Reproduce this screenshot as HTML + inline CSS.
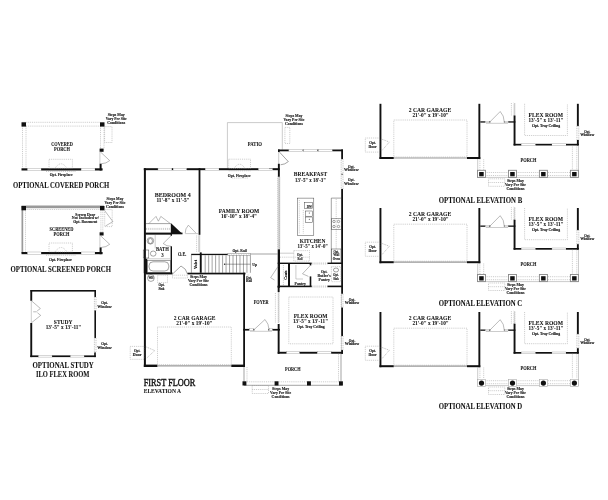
<!DOCTYPE html>
<html><head><meta charset="utf-8"><title>First Floor</title>
<style>
html,body{margin:0;padding:0;background:#fff;}
body{width:608px;height:500px;overflow:hidden;}
svg{display:block;filter:grayscale(1);}
text{font-family:"Liberation Serif",serif;fill:#111;}
.b{font-weight:bold;stroke:#111;stroke-width:0.06;}
.r{font-weight:normal;}
.ff{font-weight:normal;stroke:#111;stroke-width:0.4;}
.s{font-weight:bold;stroke:#111;stroke-width:0.12;}
.w{fill:#fff;stroke:#999;stroke-width:0.4;}
.t{stroke:#333;stroke-width:0.45;fill:none;}
.g{stroke:#999;stroke-width:0.5;fill:none;}
.g2{stroke:#777;stroke-width:0.5;fill:none;}
.d2{stroke:#777;stroke-width:0.5;stroke-dasharray:1 0.9;fill:none;}
.ow{fill:#fff;stroke:#888;stroke-width:0.5;stroke-dasharray:1 0.8;}
.d{stroke:#999;stroke-width:0.5;stroke-dasharray:1 0.9;fill:none;}
</style></head>
<body>
<svg width="608" height="500" viewBox="0 0 608 500">
<rect width="608" height="500" fill="#fff"/>
<line x1="22.5" y1="122.3" x2="100" y2="122.3" class="d"/>
<line x1="26" y1="126.1" x2="100" y2="126.1" class="d"/>
<line x1="22.5" y1="126.3" x2="22.5" y2="168.3" class="d"/>
<line x1="26" y1="126.3" x2="26" y2="168.3" class="d"/>
<line x1="100.5" y1="126.3" x2="100.5" y2="149.3" class="d"/>
<line x1="104" y1="126.3" x2="104" y2="149.3" class="d"/>
<rect x="21.5" y="122.3" width="4.5" height="4.3" fill="#111"/>
<rect x="100" y="122.3" width="4.5" height="4.3" fill="#111"/>
<rect x="99.6" y="148.6" width="4" height="3.2" fill="#111"/>
<line x1="99.9" y1="151.8" x2="99.9" y2="163.7" class="g"/>
<path d="M100.3,151.8 L109.7,160.6 A12.9,12.9 0 0 1 101.5,163.7" class="g2"/>
<rect x="99.6" y="163.7" width="2" height="6.8" fill="#111"/>
<rect x="21.5" y="168.3" width="6.1" height="2.2" fill="#111"/>
<rect x="27.6" y="168.3" width="13.6" height="2.2" class="w"/>
<rect x="41.2" y="168.3" width="40" height="2.2" fill="#111"/>
<rect x="81.2" y="168.3" width="13.8" height="2.2" class="w"/>
<rect x="95" y="168.3" width="7.6" height="2.2" fill="#111"/>
<rect x="49" y="159.3" width="23.4" height="9" class="d" fill="none"/>
<path d="M55,168.3 Q61,159.3 67,168.3" class="d"/>
<line x1="46" y1="171.5" x2="76" y2="171.5" class="d"/>
<text x="51.25" y="146.4" font-size="5.3" textLength="21.5" lengthAdjust="spacingAndGlyphs" class="b">COVERED</text>
<text x="54" y="150.8" font-size="5.3" textLength="16" lengthAdjust="spacingAndGlyphs" class="b">PORCH</text>
<rect x="104.6" y="126.6" width="7.4" height="15.9" class="d" fill="none"/>
<text x="107.7" y="115.6" font-size="4.4" textLength="17" lengthAdjust="spacingAndGlyphs" class="s">Steps May</text>
<text x="105.7" y="119.6" font-size="4.4" textLength="21" lengthAdjust="spacingAndGlyphs" class="s">Vary Per Site</text>
<text x="107.2" y="123.6" font-size="4.4" textLength="18" lengthAdjust="spacingAndGlyphs" class="s">Conditions</text>
<text x="49.7" y="176.2" font-size="4.48" textLength="23" lengthAdjust="spacingAndGlyphs" class="s">Opt. Fireplace</text>
<text x="13" y="188" font-size="8.2" textLength="96.2" lengthAdjust="spacingAndGlyphs" class="b">OPTIONAL COVERED PORCH</text>
<rect x="21.5" y="205.5" width="82.5" height="2.7" fill="#9a9a9a"/>
<rect x="21.5" y="206" width="1.7" height="47" fill="#9a9a9a"/>
<line x1="25.5" y1="209.5" x2="100" y2="209.5" class="d"/>
<line x1="25.5" y1="209.5" x2="25.5" y2="252" class="d"/>
<line x1="100.9" y1="210.3" x2="100.9" y2="232.3" class="d"/>
<line x1="102.8" y1="210.3" x2="102.8" y2="232.3" class="d"/>
<rect x="21.5" y="206" width="4.5" height="4.3" fill="#111"/>
<rect x="100" y="206" width="4.5" height="4.3" fill="#111"/>
<rect x="99.6" y="232.3" width="4" height="3.2" fill="#111"/>
<line x1="99.9" y1="235.5" x2="99.9" y2="247.4" class="g"/>
<path d="M100.3,235.5 L109.7,244.3 A12.9,12.9 0 0 1 101.5,247.4" class="g2"/>
<rect x="99.6" y="247.4" width="2" height="6.8" fill="#111"/>
<rect x="21.5" y="252" width="6.1" height="2.2" fill="#111"/>
<rect x="27.6" y="252" width="13.6" height="2.2" class="w"/>
<rect x="41.2" y="252" width="40" height="2.2" fill="#111"/>
<rect x="81.2" y="252" width="13.8" height="2.2" class="w"/>
<rect x="95" y="252" width="7.6" height="2.2" fill="#111"/>
<rect x="49" y="243" width="23.4" height="9" class="d" fill="none"/>
<path d="M55,252 Q61,243 67,252" class="d"/>
<line x1="46" y1="255.2" x2="76" y2="255.2" class="d"/>
<text x="49.5" y="231.2" font-size="5.3" textLength="24" lengthAdjust="spacingAndGlyphs" class="b">SCREENED</text>
<text x="53.5" y="235.6" font-size="5.3" textLength="16" lengthAdjust="spacingAndGlyphs" class="b">PORCH</text>
<text x="106.5" y="199.6" font-size="4.4" textLength="17" lengthAdjust="spacingAndGlyphs" class="s">Steps May</text>
<text x="104.5" y="203.6" font-size="4.4" textLength="21" lengthAdjust="spacingAndGlyphs" class="s">Vary Per Site</text>
<text x="106" y="207.6" font-size="4.4" textLength="18" lengthAdjust="spacingAndGlyphs" class="s">Conditions</text>
<text x="75.3" y="215.6" font-size="4.4" textLength="20" lengthAdjust="spacingAndGlyphs" class="s">Screen Door</text>
<text x="71.8" y="219.3" font-size="4.4" textLength="27" lengthAdjust="spacingAndGlyphs" class="s">Not Included w/</text>
<text x="73.3" y="223" font-size="4.4" textLength="24" lengthAdjust="spacingAndGlyphs" class="s">Opt. Basement</text>
<rect x="104.7" y="209.6" width="7.5" height="17" class="d" fill="none"/>
<path d="M104.9,210.9 L112.9,221.6 L105.5,226" class="g2"/>
<text x="49" y="260.5" font-size="4.48" textLength="23" lengthAdjust="spacingAndGlyphs" class="s">Opt. Fireplace</text>
<text x="10.5" y="272.2" font-size="8.2" textLength="100.5" lengthAdjust="spacingAndGlyphs" class="b">OPTIONAL SCREENED PORCH</text>
<rect x="30.5" y="290" width="65.5" height="1.6" fill="#111"/>
<rect x="30.3" y="290" width="1.9" height="10.8" fill="#111"/>
<rect x="30.3" y="323" width="1.9" height="34.1" fill="#111"/>
<line x1="31.3" y1="300.8" x2="31.3" y2="323" class="g"/>
<path d="M31.7,301 L40.4,308.5 L37.1,311 M33.2,311.8 L36.8,311.8 M37.4,312.7 L40.7,315.4 L31.7,322.6" class="g2"/>
<rect x="94.4" y="290" width="1.6" height="7" fill="#111"/>
<rect x="94.4" y="297" width="1.6" height="13.5" class="ow"/>
<rect x="94.4" y="310.5" width="1.6" height="27.5" fill="#111"/>
<rect x="94.4" y="338" width="1.6" height="14.5" class="ow"/>
<rect x="94.2" y="352.5" width="1.6" height="4.6" fill="#111"/>
<rect x="30.3" y="355.4" width="8.3" height="1.7" fill="#111"/>
<rect x="38.6" y="355.4" width="13.5" height="1.7" class="w"/>
<rect x="52.1" y="355.4" width="18.5" height="1.7" fill="#111"/>
<rect x="70.6" y="355.4" width="13.6" height="1.7" class="w"/>
<rect x="84.2" y="355.4" width="11.6" height="1.7" fill="#111"/>
<text x="53.8" y="324.2" font-size="6.9" textLength="18.8" lengthAdjust="spacingAndGlyphs" class="b">STUDY</text>
<text x="45.75" y="329.3" font-size="5.5" textLength="35.5" lengthAdjust="spacingAndGlyphs" class="b">13'-5" x 13'-11"</text>
<text x="101.25" y="304.2" font-size="4.14" textLength="6.5" lengthAdjust="spacingAndGlyphs" class="s">Opt.</text>
<text x="97.25" y="307.8" font-size="4.14" textLength="14.5" lengthAdjust="spacingAndGlyphs" class="s">Window</text>
<text x="101.25" y="345.2" font-size="4.14" textLength="6.5" lengthAdjust="spacingAndGlyphs" class="s">Opt.</text>
<text x="97.25" y="348.8" font-size="4.14" textLength="14.5" lengthAdjust="spacingAndGlyphs" class="s">Window</text>
<text x="32.5" y="368.2" font-size="8.2" textLength="61.3" lengthAdjust="spacingAndGlyphs" class="b">OPTIONAL STUDY</text>
<text x="36" y="376.7" font-size="8.2" textLength="53.5" lengthAdjust="spacingAndGlyphs" class="b">ILO FLEX ROOM</text>
<path d="M227.4,168.6 L227.4,122.6 L282.3,122.6 L282.3,149.6" class="g"/>
<text x="247.8" y="146.2" font-size="6" textLength="14.2" lengthAdjust="spacingAndGlyphs" class="b">PATIO</text>
<text x="285.5" y="116.6" font-size="4.4" textLength="17" lengthAdjust="spacingAndGlyphs" class="s">Steps May</text>
<text x="283.5" y="120.6" font-size="4.4" textLength="21" lengthAdjust="spacingAndGlyphs" class="s">Vary Per Site</text>
<text x="285" y="124.6" font-size="4.4" textLength="18" lengthAdjust="spacingAndGlyphs" class="s">Conditions</text>
<rect x="284.9" y="127.4" width="4.9" height="16.1" class="d" fill="none"/>
<rect x="143.8" y="168.2" width="14.2" height="2" fill="#111"/>
<rect x="158" y="168.2" width="13.9" height="2" class="w"/>
<rect x="171.9" y="168.2" width="1.3" height="2" fill="#111"/>
<rect x="173.2" y="168.2" width="13.5" height="2" class="w"/>
<rect x="186.7" y="168.2" width="18.7" height="2" fill="#111"/>
<rect x="205.4" y="168.2" width="13.6" height="2" class="w"/>
<rect x="219" y="168.2" width="39.6" height="2" fill="#111"/>
<rect x="258.6" y="168.2" width="14.1" height="2" class="w"/>
<rect x="272.7" y="168.2" width="6.9" height="2" fill="#111"/>
<rect x="228.7" y="159.2" width="21.8" height="9.3" class="d" fill="none"/>
<path d="M234,168.5 Q239.5,160 245,168.5" class="d"/>
<line x1="228.7" y1="170.8" x2="250.5" y2="170.8" class="d"/>
<line x1="232" y1="178" x2="248" y2="178" class="d"/>
<text x="227.8" y="176.6" font-size="4.48" textLength="23" lengthAdjust="spacingAndGlyphs" class="s">Opt. Fireplace</text>
<rect x="143.9" y="168.2" width="2" height="198.8" fill="#111"/>
<rect x="143.8" y="258.8" width="3.4" height="14.4" fill="#111"/>
<rect x="198.6" y="168.2" width="1.8" height="66.6" fill="#111"/>
<line x1="196.6" y1="235.5" x2="196.6" y2="252.4" class="d"/>
<path d="M198.2,235 L200.2,236 L198.2,237 L200.2,238 L198.2,239 L200.2,240 L198.2,241 L200.2,242 L198.2,243 L200.2,244 L198.2,245 L200.2,246 L198.2,247 L200.2,248 L198.2,249 L200.2,250 L198.2,251 L200.2,252" class="g"/>
<text x="154.75" y="196.5" font-size="6.9" textLength="35.9" lengthAdjust="spacingAndGlyphs" class="b">BEDROOM 4</text>
<text x="156.45" y="201.9" font-size="5.5" textLength="33.1" lengthAdjust="spacingAndGlyphs" class="b">11'-8" x 11'-5"</text>
<path d="M148.8,223.6 L156,216.4 L158.4,221.2 L160.8,216.4 L170.4,223.6" class="g2"/>
<line x1="145.6" y1="223.6" x2="170.6" y2="223.6" class="t"/>
<line x1="146" y1="228.4" x2="170.4" y2="228.4" class="d"/>
<line x1="146" y1="229.4" x2="170.4" y2="229.4" class="d"/>
<path d="M170.8,223 L170.8,233.5 L182,233.5 Z" fill="#111"/>
<rect x="145.6" y="232.6" width="36.9" height="1.7" fill="#111"/>
<path d="M196,233.2 L188.4,225.2 A11,11 0 0 0 185.2,233.2" class="g2"/>
<line x1="185.2" y1="233.6" x2="198.6" y2="233.6" class="g"/>
<text x="218.75" y="212.6" font-size="6.9" textLength="40.5" lengthAdjust="spacingAndGlyphs" class="b">FAMILY ROOM</text>
<text x="221" y="217.6" font-size="5.5" textLength="36" lengthAdjust="spacingAndGlyphs" class="b">16'-10" x 18'-4"</text>
<rect x="145.6" y="233" width="25.9" height="1.5" fill="#111"/>
<rect x="170.6" y="233" width="1.4" height="2.8" fill="#111"/>
<path d="M171.2,235.6 L163.2,243.5 A11.2,11.2 0 0 0 171,246.3" class="g2"/>
<rect x="170.6" y="246.3" width="1.4" height="26.9" fill="#111"/>
<line x1="155.2" y1="235" x2="155.2" y2="248.4" class="g"/>
<circle cx="150.4" cy="240.8" r="3.3" class="t" fill="none"/>
<ellipse cx="150.4" cy="241" rx="2.1" ry="2.6" class="t" fill="none"/>
<rect x="143.2" y="250" width="5.6" height="8" class="t" fill="#fff"/>
<ellipse cx="153.2" cy="253.6" rx="2.8" ry="2.6" class="t" fill="none"/>
<line x1="147" y1="258.8" x2="170.4" y2="258.8" class="g"/>
<rect x="147.6" y="260.4" width="22.8" height="12" class="t" fill="none"/>
<rect x="149" y="261.8" width="19.8" height="9.2" rx="4" class="t" fill="none"/>
<text x="156" y="251.4" font-size="5.2" textLength="12.8" lengthAdjust="spacingAndGlyphs" class="b">BATH</text>
<text x="161.2" y="256.5" font-size="5.2" textLength="2.4" lengthAdjust="spacingAndGlyphs" class="b">3</text>
<text x="177.95" y="255.6" font-size="5.5" textLength="8.5" lengthAdjust="spacingAndGlyphs" class="b">O.E.</text>
<rect x="191.2" y="253.8" width="36.6" height="1.3" fill="#111"/>
<rect x="227.8" y="253.7" width="22.6" height="1.9" fill="none" stroke="#777" stroke-width="0.45"/>
<line x1="228.5" y1="253.8" x2="229.5" y2="255.5" class="d"/>
<line x1="231" y1="253.8" x2="232" y2="255.5" class="d"/>
<line x1="233.5" y1="253.8" x2="234.5" y2="255.5" class="d"/>
<line x1="236" y1="253.8" x2="237" y2="255.5" class="d"/>
<line x1="238.5" y1="253.8" x2="239.5" y2="255.5" class="d"/>
<line x1="241" y1="253.8" x2="242" y2="255.5" class="d"/>
<line x1="243.5" y1="253.8" x2="244.5" y2="255.5" class="d"/>
<line x1="246" y1="253.8" x2="247" y2="255.5" class="d"/>
<line x1="248.5" y1="253.8" x2="249.5" y2="255.5" class="d"/>
<line x1="191.4" y1="255" x2="191.4" y2="272.8" class="t"/>
<text x="0" y="0" font-size="3.8" class="s" transform="translate(196.9,269) rotate(-90)" textLength="9" lengthAdjust="spacingAndGlyphs">Valet</text>
<rect x="199.8" y="252.4" width="1.9" height="20.4" fill="#111"/>
<line x1="205.18" y1="255.3" x2="205.18" y2="272.8" class="t"/>
<line x1="208.66" y1="255.3" x2="208.66" y2="272.8" class="t"/>
<line x1="212.14" y1="255.3" x2="212.14" y2="272.8" class="t"/>
<line x1="215.62" y1="255.3" x2="215.62" y2="272.8" class="t"/>
<line x1="219.1" y1="255.3" x2="219.1" y2="272.8" class="t"/>
<line x1="222.58" y1="255.3" x2="222.58" y2="272.8" class="t"/>
<line x1="226.06" y1="255.3" x2="226.06" y2="272.8" class="t"/>
<line x1="229.54" y1="255.3" x2="229.54" y2="272.8" class="t"/>
<line x1="233.02" y1="255.3" x2="233.02" y2="272.8" class="t"/>
<line x1="236.5" y1="255.3" x2="236.5" y2="272.8" class="t"/>
<line x1="239.98" y1="255.3" x2="239.98" y2="272.8" class="t"/>
<line x1="243.46" y1="255.3" x2="243.46" y2="272.8" class="t"/>
<line x1="246.94" y1="255.3" x2="246.94" y2="272.8" class="t"/>
<line x1="250.42" y1="255.3" x2="250.42" y2="272.8" class="t"/>
<line x1="224.5" y1="264.2" x2="250.4" y2="264.2" class="t"/>
<circle cx="224.5" cy="264.2" r="0.6" fill="#111"/>
<text x="252.25" y="266.3" font-size="4.4" textLength="4.9" lengthAdjust="spacingAndGlyphs" class="s">Up</text>
<line x1="250.4" y1="254" x2="277.6" y2="254" class="t"/>
<text x="232.5" y="251.8" font-size="4.2" textLength="14.2" lengthAdjust="spacingAndGlyphs" class="s">Opt. Rail</text>
<rect x="145.6" y="272.5" width="26.9" height="1.9" fill="#111"/>
<path d="M172.5,274 L181,266 A11.67,11.67 0 0 1 187.5,274" class="t"/>
<rect x="187.5" y="272.7" width="58" height="1.7" fill="#111"/>
<circle cx="150.9" cy="278" r="3.4" class="t" fill="none"/>
<text x="148.4" y="279.4" font-size="3.4" class="s" textLength="5" lengthAdjust="spacingAndGlyphs">WH</text>
<rect x="157.6" y="275.2" width="9.9" height="7.4" class="d" fill="none"/>
<text x="158.5" y="286.3" font-size="3.91" textLength="6" lengthAdjust="spacingAndGlyphs" class="s">Opt.</text>
<text x="158.5" y="289.7" font-size="3.91" textLength="6" lengthAdjust="spacingAndGlyphs" class="s">Sink</text>
<rect x="172.5" y="275.2" width="15" height="2.8" class="d" fill="none"/>
<text x="190" y="278.3" font-size="4.4" textLength="17" lengthAdjust="spacingAndGlyphs" class="s">Steps May</text>
<text x="188" y="282.3" font-size="4.4" textLength="21" lengthAdjust="spacingAndGlyphs" class="s">Vary Per Site</text>
<text x="189.5" y="286.3" font-size="4.4" textLength="18" lengthAdjust="spacingAndGlyphs" class="s">Conditions</text>
<line x1="248" y1="274.5" x2="248" y2="276" class="d"/>
<text x="246" y="279" font-size="3.91" textLength="6" lengthAdjust="spacingAndGlyphs" class="s">Opt.</text>
<text x="246" y="282.4" font-size="3.91" textLength="6" lengthAdjust="spacingAndGlyphs" class="s">Rail</text>
<rect x="243.2" y="272.7" width="1.8" height="94.3" fill="#111"/>
<rect x="143.8" y="364.6" width="13.7" height="2.4" fill="#111"/>
<line x1="157.5" y1="365.8" x2="231.3" y2="365.8" stroke="#999" stroke-width="1.2"/>
<rect x="231.3" y="364.6" width="13.7" height="2.4" fill="#111"/>
<rect x="157.5" y="327" width="73.8" height="37.6" class="d" fill="none"/>
<text x="173.7" y="320.3" font-size="6.9" textLength="41.8" lengthAdjust="spacingAndGlyphs" class="b">2 CAR GARAGE</text>
<text x="176.25" y="324.6" font-size="5.5" textLength="36.3" lengthAdjust="spacingAndGlyphs" class="b">21'-0" x 19'-10"</text>
<rect x="130.2" y="346.4" width="13.8" height="12.9" class="d" fill="none"/>
<text x="133.9" y="352.3" font-size="4.3" textLength="6.6" lengthAdjust="spacingAndGlyphs" class="s">Opt.</text>
<text x="132.85" y="356" font-size="4.3" textLength="8.7" lengthAdjust="spacingAndGlyphs" class="s">Door</text>
<path d="M146.4,347 L154.8,350.6 Q151,354 146.4,358.4" class="d2"/>
<text x="143.7" y="385.8" font-size="10" textLength="51.6" lengthAdjust="spacingAndGlyphs" class="ff">FIRST FLOOR</text>
<text x="143.7" y="392.5" font-size="6.9" textLength="37.3" lengthAdjust="spacingAndGlyphs" class="b">ELEVATION A</text>
<rect x="278" y="149.5" width="10.9" height="1.8" fill="#111"/>
<rect x="288.9" y="149.5" width="13.9" height="1.8" class="w"/>
<rect x="302.8" y="149.5" width="0.8" height="1.8" fill="#111"/>
<rect x="303.6" y="149.5" width="13.9" height="1.8" class="w"/>
<rect x="317.5" y="149.5" width="1" height="1.8" fill="#111"/>
<rect x="318.5" y="149.5" width="13.9" height="1.8" class="w"/>
<rect x="332.4" y="149.5" width="10.6" height="1.8" fill="#111"/>
<rect x="278" y="149.5" width="1.7" height="2.5" fill="#111"/>
<path d="M279.6,152.2 L288.3,161.6 A12.81,12.81 0 0 1 280.6,164.8" class="t"/>
<line x1="278.7" y1="152" x2="278.7" y2="165" class="g"/>
<rect x="277.9" y="163.8" width="1.9" height="13" fill="#111"/>
<line x1="269" y1="168.6" x2="278" y2="168.6" class="t"/>
<path d="M277.3,176.8 L279.7,177.8 L277.3,178.8 L279.7,179.8 L277.3,180.8 L279.7,181.8 L277.3,182.8 L279.7,183.8 L277.3,184.8 L279.7,185.8 L277.3,186.8 L279.7,187.8 L277.3,188.8 L279.7,189.8 L277.3,190.8 L279.7,191.8 L277.3,192.8 L279.7,193.8 L277.3,194.8 L279.7,195.8 L277.3,196.8 L279.7,197.8 L277.3,198.8 L279.7,199.8 L277.3,200.8 L279.7,201.8 L277.3,202.8 L279.7,203.8 L277.3,204.8 L279.7,205.8 L277.3,206.8 L279.7,207.8 L277.3,208.8 L279.7,209.8 L277.3,210.8 L279.7,211.8 L277.3,212.8 L279.7,213.8 L277.3,214.8 L279.7,215.8 L277.3,216.8 L279.7,217.8 L277.3,218.8 L279.7,219.8 L277.3,220.8 L279.7,221.8 L277.3,222.8 L279.7,223.8 L277.3,224.8 L279.7,225.8 L277.3,226.8 L279.7,227.8 L277.3,228.8 L279.7,229.8 L277.3,230.8 L279.7,231.8 L277.3,232.8 L279.7,233.8 L277.3,234.8 L279.7,235.8 L277.3,236.8 L279.7,237.8 L277.3,238.8 L279.7,239.8 L277.3,240.8 L279.7,241.8 L277.3,242.8 L279.7,243.8 L277.3,244.8 L279.7,245.8 L277.3,246.8 L279.7,247.8 L277.3,248.8" class="g"/>
<line x1="279.7" y1="176.8" x2="279.7" y2="249.3" class="g"/>
<rect x="341.2" y="149.5" width="1.8" height="9.8" fill="#111"/>
<rect x="341.2" y="159.3" width="1.8" height="29.7" class="ow"/>
<rect x="341.4" y="173.8" width="1.4" height="0.8" fill="#111"/>
<rect x="341.2" y="189" width="1.8" height="164.8" fill="#111"/>
<text x="293.85" y="176.4" font-size="6.9" textLength="33.3" lengthAdjust="spacingAndGlyphs" class="b">BREAKFAST</text>
<text x="295" y="182" font-size="5.5" textLength="31" lengthAdjust="spacingAndGlyphs" class="b">13'-5" x 18'-3"</text>
<text x="348.05" y="167.5" font-size="4.14" textLength="6.5" lengthAdjust="spacingAndGlyphs" class="s">Opt.</text>
<text x="344.05" y="171.1" font-size="4.14" textLength="14.5" lengthAdjust="spacingAndGlyphs" class="s">Window</text>
<text x="348.05" y="181.2" font-size="4.14" textLength="6.5" lengthAdjust="spacingAndGlyphs" class="s">Opt.</text>
<text x="344.05" y="184.8" font-size="4.14" textLength="14.5" lengthAdjust="spacingAndGlyphs" class="s">Window</text>
<rect x="297.3" y="198.1" width="16.5" height="37.5" class="t" fill="none"/>
<line x1="299.3" y1="200" x2="299.3" y2="233.5" class="d"/>
<line x1="303.3" y1="210" x2="303.3" y2="233.5" class="d"/>
<rect x="304.7" y="202.7" width="7.7" height="5.6" class="t" fill="none"/>
<text x="306.8" y="207.6" font-size="3.68" textLength="5" lengthAdjust="spacingAndGlyphs" class="s">DW</text>
<rect x="305.4" y="211" width="7" height="5.2" class="t" fill="none"/>
<rect x="305.4" y="217" width="7" height="5.3" class="t" fill="none"/>
<circle cx="309.3" cy="213" r="0.5" fill="#333"/><circle cx="309.3" cy="219.3" r="0.5" fill="#333"/>
<line x1="331.3" y1="198.1" x2="331.3" y2="263" class="t"/>
<line x1="331.3" y1="198.1" x2="341.2" y2="198.1" class="t"/>
<line x1="336.2" y1="199" x2="336.2" y2="249" class="d"/>
<rect x="331.3" y="218.8" width="9.9" height="10.5" class="t" fill="none"/>
<circle cx="334" cy="221.5" r="1.2" class="t" fill="none"/><circle cx="338.5" cy="221.5" r="1.2" class="t" fill="none"/><circle cx="334" cy="226.5" r="1.2" class="t" fill="none"/><circle cx="338.5" cy="226.5" r="1.2" class="t" fill="none"/>
<rect x="331.5" y="249" width="9.5" height="14" class="t" fill="none"/>
<text x="333.55" y="252.5" font-size="3.68" textLength="5.5" lengthAdjust="spacingAndGlyphs" class="s">Opt.</text>
<text x="333.3" y="256.1" font-size="3.68" textLength="6" lengthAdjust="spacingAndGlyphs" class="s">Wall</text>
<text x="332.65" y="259.7" font-size="3.68" textLength="7.3" lengthAdjust="spacingAndGlyphs" class="s">Oven</text>
<text x="299.8" y="242.6" font-size="6.9" textLength="25.6" lengthAdjust="spacingAndGlyphs" class="b">KITCHEN</text>
<text x="297.4" y="247.5" font-size="5.5" textLength="30.6" lengthAdjust="spacingAndGlyphs" class="b">13'-5" x 14'-0"</text>
<rect x="293.8" y="250.6" width="15.7" height="10.5" class="d" fill="none"/>
<line x1="279.8" y1="253.2" x2="293.8" y2="253.2" class="g"/>
<line x1="280" y1="257.2" x2="309.5" y2="257.2" class="d"/>
<text x="297" y="255.6" font-size="4.3" textLength="6" lengthAdjust="spacingAndGlyphs" class="s">Opt.</text>
<text x="297.6" y="259.5" font-size="4.3" textLength="4.8" lengthAdjust="spacingAndGlyphs" class="s">Rail</text>
<rect x="277.7" y="249.3" width="2.3" height="38.5" fill="#111"/>
<rect x="277.7" y="262.6" width="34" height="1.4" fill="#111"/>
<line x1="311.7" y1="263" x2="327.5" y2="263" class="d"/>
<line x1="311.7" y1="264" x2="327.5" y2="264" class="d"/>
<rect x="327.5" y="262.6" width="15.5" height="1.4" fill="#111"/>
<rect x="288" y="264" width="2" height="23" fill="#111"/>
<rect x="309.7" y="264" width="1.6" height="1.4" fill="#111"/>
<path d="M310.4,265.4 L302.5,273.8 L308.4,276.4" class="g2"/>
<rect x="309.7" y="276.4" width="1.6" height="10.6" fill="#111"/>
<line x1="295.9" y1="265" x2="295.9" y2="279" class="g"/>
<line x1="295.9" y1="279" x2="303" y2="279" class="g"/>
<text x="294.6" y="285" font-size="4.3" textLength="11.2" lengthAdjust="spacingAndGlyphs" class="s">Pantry</text>
<line x1="283.4" y1="265" x2="283.4" y2="285.5" class="d"/>
<text x="0" y="0" font-size="3.9" class="s" transform="translate(287.3,279.7) rotate(-90)" textLength="9.2" lengthAdjust="spacingAndGlyphs">Coats</text>
<text x="320.9" y="272.8" font-size="4.3" textLength="6.6" lengthAdjust="spacingAndGlyphs" class="s">Opt.</text>
<text x="317.6" y="276.7" font-size="4.3" textLength="13.2" lengthAdjust="spacingAndGlyphs" class="s">Butler's</text>
<text x="318.6" y="280.6" font-size="4.3" textLength="11.2" lengthAdjust="spacingAndGlyphs" class="s">Pantry</text>
<rect x="331.4" y="266.6" width="9.3" height="15.1" class="d" fill="none"/>
<ellipse cx="336" cy="270" rx="2.6" ry="2" class="t" fill="none"/>
<text x="333.3" y="276.3" font-size="3.6" textLength="5.4" lengthAdjust="spacingAndGlyphs" class="s">Opt.</text>
<text x="333.3" y="279.9" font-size="3.6" textLength="5.4" lengthAdjust="spacingAndGlyphs" class="s">Sink</text>
<rect x="277.7" y="285.6" width="34" height="1.6" fill="#111"/>
<line x1="311.7" y1="286" x2="327.5" y2="286" class="d"/>
<line x1="311.7" y1="287" x2="327.5" y2="287" class="d"/>
<rect x="327.5" y="285.6" width="15.5" height="1.6" fill="#111"/>
<path d="M278,266.5 L270.6,277.7 L274.5,280" class="g2"/>
<text x="253.7" y="303.8" font-size="5.5" textLength="15" lengthAdjust="spacingAndGlyphs" class="b">FOYER</text>
<rect x="243.2" y="328.9" width="6.3" height="1.7" fill="#111"/>
<rect x="249.5" y="328.8" width="4" height="1.9" class="w"/>
<rect x="253.5" y="328.9" width="0.8" height="1.7" fill="#111"/>
<rect x="268.4" y="328.9" width="0.8" height="1.7" fill="#111"/>
<rect x="269.2" y="328.8" width="3.3" height="1.9" class="w"/>
<rect x="272.5" y="328.9" width="7.5" height="1.7" fill="#111"/>
<line x1="250" y1="331.3" x2="272" y2="331.3" class="g"/>
<path d="M253.9,329.8 L265,319.5 A15.2,15.2 0 0 1 269,329.6" class="g2"/>
<rect x="277.7" y="286" width="1.9" height="6.1" fill="#111"/>
<line x1="275.4" y1="293" x2="275.4" y2="323.5" class="d"/>
<path d="M277.8,292.1 L279.4,293.1 L277.8,294.1 L279.4,295.1 L277.8,296.1 L279.4,297.1 L277.8,298.1 L279.4,299.1 L277.8,300.1 L279.4,301.1 L277.8,302.1 L279.4,303.1 L277.8,304.1 L279.4,305.1 L277.8,306.1 L279.4,307.1 L277.8,308.1 L279.4,309.1 L277.8,310.1 L279.4,311.1 L277.8,312.1 L279.4,313.1 L277.8,314.1 L279.4,315.1 L277.8,316.1 L279.4,317.1 L277.8,318.1 L279.4,319.1 L277.8,320.1 L279.4,321.1 L277.8,322.1 L279.4,323.1" class="g"/>
<rect x="277.7" y="324" width="1.9" height="29.8" fill="#111"/>
<rect x="277.7" y="351.8" width="9" height="1.9" fill="#111"/>
<rect x="286.7" y="351.8" width="12.9" height="1.9" class="w"/>
<rect x="299.6" y="351.8" width="17.8" height="1.9" fill="#111"/>
<rect x="317.4" y="351.8" width="13.8" height="1.9" class="w"/>
<rect x="331.2" y="351.8" width="11.8" height="1.9" fill="#111"/>
<rect x="341.2" y="293.8" width="1.8" height="13.7" class="ow"/>
<rect x="341.2" y="336" width="1.8" height="14" class="ow"/>
<rect x="288.8" y="297" width="44.2" height="46.8" class="d" fill="none"/>
<text x="293.75" y="318.1" font-size="6.9" textLength="33.7" lengthAdjust="spacingAndGlyphs" class="b">FLEX ROOM</text>
<text x="293" y="323.3" font-size="5.5" textLength="35" lengthAdjust="spacingAndGlyphs" class="b">13'-5" x 13'-11"</text>
<text x="297.05" y="328" font-size="4.14" textLength="27.5" lengthAdjust="spacingAndGlyphs" class="s">Opt. Tray Ceiling</text>
<text x="348.75" y="300.6" font-size="4.14" textLength="6.5" lengthAdjust="spacingAndGlyphs" class="s">Opt.</text>
<text x="344.75" y="304.2" font-size="4.14" textLength="14.5" lengthAdjust="spacingAndGlyphs" class="s">Window</text>
<text x="348.75" y="341.8" font-size="4.14" textLength="6.5" lengthAdjust="spacingAndGlyphs" class="s">Opt.</text>
<text x="344.75" y="345.4" font-size="4.14" textLength="14.5" lengthAdjust="spacingAndGlyphs" class="s">Window</text>
<line x1="244" y1="367" x2="244" y2="381.5" class="t"/>
<line x1="247" y1="367" x2="247" y2="381.5" class="d"/>
<line x1="341" y1="353.8" x2="341" y2="381.5" class="t"/>
<line x1="338.5" y1="353.8" x2="338.5" y2="381.5" class="d"/>
<line x1="244" y1="385.3" x2="342.5" y2="385.3" class="t"/>
<line x1="247" y1="381.8" x2="339" y2="381.8" class="d"/>
<rect x="242.5" y="381.3" width="3.9" height="4.2" fill="#111"/>
<rect x="274.6" y="381.3" width="3.9" height="4.2" fill="#111"/>
<rect x="307" y="381.3" width="3.9" height="4.2" fill="#111"/>
<rect x="339" y="381.3" width="3.9" height="4.2" fill="#111"/>
<text x="285.05" y="371.3" font-size="5.5" textLength="15.5" lengthAdjust="spacingAndGlyphs" class="b">PORCH</text>
<rect x="252.2" y="385.5" width="16.3" height="8" class="d" fill="none"/>
<line x1="252.2" y1="389.5" x2="268.5" y2="389.5" class="d"/>
<text x="272.1" y="389.9" font-size="4.4" textLength="17" lengthAdjust="spacingAndGlyphs" class="s">Steps May</text>
<text x="270.1" y="393.9" font-size="4.4" textLength="21" lengthAdjust="spacingAndGlyphs" class="s">Vary Per Site</text>
<text x="271.6" y="397.9" font-size="4.4" textLength="18" lengthAdjust="spacingAndGlyphs" class="s">Conditions</text>
<g transform="translate(0,0)">
<rect x="379.5" y="103.8" width="1.9" height="55.2" fill="#111"/>
<rect x="379.5" y="157" width="14.3" height="2" fill="#111"/>
<line x1="393.8" y1="158" x2="467" y2="158" stroke="#999" stroke-width="1.2"/>
<rect x="467" y="157" width="13.3" height="2" fill="#111"/>
<rect x="478.4" y="103.8" width="1.9" height="55.2" fill="#111"/>
<rect x="393.8" y="120" width="73.2" height="37" class="d" fill="none"/>
<text x="408.75" y="111.6" font-size="6.9" textLength="42.5" lengthAdjust="spacingAndGlyphs" class="b">2 CAR GARAGE</text>
<text x="412.45" y="117" font-size="5.5" textLength="36.3" lengthAdjust="spacingAndGlyphs" class="b">21'-0" x 19'-10"</text>
<rect x="365.3" y="138" width="14.4" height="14.1" class="d" fill="none"/>
<text x="369.3" y="144" font-size="4.3" textLength="6.6" lengthAdjust="spacingAndGlyphs" class="s">Opt.</text>
<text x="368.55" y="147.9" font-size="4.3" textLength="8.1" lengthAdjust="spacingAndGlyphs" class="s">Door</text>
<path d="M381.8,139.2 L389.3,142 Q386,146 381.8,150.6" class="d2"/>
<rect x="480.3" y="121.3" width="5.1" height="1.3" fill="#111"/>
<rect x="485.4" y="121.2" width="4" height="1.5" class="w"/>
<rect x="489.4" y="121.3" width="0.9" height="1.3" fill="#111"/>
<rect x="503.9" y="121.3" width="0.8" height="1.3" fill="#111"/>
<rect x="504.7" y="121.2" width="3.6" height="1.5" class="w"/>
<rect x="508.3" y="121.3" width="7.1" height="1.3" fill="#111"/>
<line x1="486" y1="123.3" x2="508" y2="123.3" class="g"/>
<path d="M489.9,121.9 L500.2,111.5 A14.6,14.6 0 0 1 504.2,121.5" class="g2"/>
<line x1="511.4" y1="103" x2="511.4" y2="116" class="d"/>
<path d="M513.6,103 L515.3,104 L513.6,105 L515.3,106 L513.6,107 L515.3,108 L513.6,109 L515.3,110 L513.6,111 L515.3,112 L513.6,113 L515.3,114 L513.6,115 L515.3,116" class="g"/>
<rect x="513.6" y="115.5" width="1.9" height="30" fill="#111"/>
<rect x="513.6" y="143.8" width="7.9" height="1.7" fill="#111"/>
<rect x="521.5" y="143.8" width="14" height="1.7" class="w"/>
<rect x="535.5" y="143.8" width="16.5" height="1.7" fill="#111"/>
<rect x="552" y="143.8" width="14" height="1.7" class="w"/>
<rect x="566" y="143.8" width="12.8" height="1.7" fill="#111"/>
<rect x="576.9" y="103.8" width="1.9" height="22.2" fill="#111"/>
<rect x="576.9" y="126" width="1.9" height="14" class="ow"/>
<rect x="576.9" y="140" width="1.9" height="5.5" fill="#111"/>
<path d="M524.6,103.8 L524.6,135.5 L567.4,135.5 L567.4,103.8" class="d"/>
<text x="528.55" y="117" font-size="6.9" textLength="34.5" lengthAdjust="spacingAndGlyphs" class="b">FLEX ROOM</text>
<text x="528.5" y="122" font-size="5.5" textLength="35" lengthAdjust="spacingAndGlyphs" class="b">13'-5" x 13'-11"</text>
<text x="532" y="126.8" font-size="4.14" textLength="28" lengthAdjust="spacingAndGlyphs" class="s">Opt. Tray Ceiling</text>
<text x="584.3" y="132.7" font-size="3.91" textLength="6" lengthAdjust="spacingAndGlyphs" class="s">Opt.</text>
<text x="580.3" y="136.2" font-size="3.91" textLength="14" lengthAdjust="spacingAndGlyphs" class="s">Window</text>
<line x1="477.7" y1="159" x2="477.7" y2="177.4" class="g"/>
<line x1="479.9" y1="159.3" x2="479.9" y2="170.3" class="d"/>
<line x1="483.7" y1="159.3" x2="483.7" y2="170.3" class="d"/>
<line x1="578.5" y1="145.5" x2="578.5" y2="177.4" class="g"/>
<line x1="572.4" y1="145.5" x2="572.4" y2="170.3" class="d"/>
<line x1="576.8" y1="145.5" x2="576.8" y2="170.3" class="d"/>
<line x1="477.7" y1="177.4" x2="578.5" y2="177.4" class="g"/>
<line x1="485.4" y1="172.5" x2="570.4" y2="172.5" class="d"/>
<line x1="485.4" y1="175.5" x2="570.4" y2="175.5" class="d"/>
<rect x="477.5" y="170.3" width="8" height="7.1" fill="#fff" stroke="#888" stroke-width="0.9"/>
<rect x="479.2" y="172" width="4.5" height="4.3" fill="#111"/>
<rect x="508.5" y="170.3" width="8" height="7.1" fill="#fff" stroke="#888" stroke-width="0.9"/>
<rect x="510.2" y="172" width="4.5" height="4.3" fill="#111"/>
<rect x="539.4" y="170.3" width="8" height="7.1" fill="#fff" stroke="#888" stroke-width="0.9"/>
<rect x="541.1" y="172" width="4.5" height="4.3" fill="#111"/>
<rect x="570.4" y="170.3" width="8" height="7.1" fill="#fff" stroke="#888" stroke-width="0.9"/>
<rect x="572.1" y="172" width="4.5" height="4.3" fill="#111"/>
<text x="520.5" y="162.2" font-size="5.5" textLength="16" lengthAdjust="spacingAndGlyphs" class="b">PORCH</text>
<rect x="488.5" y="178.8" width="16.3" height="7.5" class="d" fill="none"/>
<line x1="488.5" y1="182.5" x2="504.8" y2="182.5" class="d"/>
<text x="506.9" y="182" font-size="4.4" textLength="17" lengthAdjust="spacingAndGlyphs" class="s">Steps May</text>
<text x="504.9" y="186" font-size="4.4" textLength="21" lengthAdjust="spacingAndGlyphs" class="s">Vary Per Site</text>
<text x="506.4" y="190" font-size="4.4" textLength="18" lengthAdjust="spacingAndGlyphs" class="s">Conditions</text>
<text x="438.8" y="203" font-size="8.2" textLength="83.4" lengthAdjust="spacingAndGlyphs" class="b">OPTIONAL ELEVATION B</text>
</g>
<g transform="translate(0,104.2)">
<rect x="379.5" y="103.8" width="1.9" height="55.2" fill="#111"/>
<rect x="379.5" y="157" width="14.3" height="2" fill="#111"/>
<line x1="393.8" y1="158" x2="467" y2="158" stroke="#999" stroke-width="1.2"/>
<rect x="467" y="157" width="13.3" height="2" fill="#111"/>
<rect x="478.4" y="103.8" width="1.9" height="55.2" fill="#111"/>
<rect x="393.8" y="120" width="73.2" height="37" class="d" fill="none"/>
<text x="408.75" y="111.6" font-size="6.9" textLength="42.5" lengthAdjust="spacingAndGlyphs" class="b">2 CAR GARAGE</text>
<text x="412.45" y="117" font-size="5.5" textLength="36.3" lengthAdjust="spacingAndGlyphs" class="b">21'-0" x 19'-10"</text>
<rect x="365.3" y="138" width="14.4" height="14.1" class="d" fill="none"/>
<text x="369.3" y="144" font-size="4.3" textLength="6.6" lengthAdjust="spacingAndGlyphs" class="s">Opt.</text>
<text x="368.55" y="147.9" font-size="4.3" textLength="8.1" lengthAdjust="spacingAndGlyphs" class="s">Door</text>
<path d="M381.8,139.2 L389.3,142 Q386,146 381.8,150.6" class="d2"/>
<rect x="480.3" y="121.3" width="5.1" height="1.3" fill="#111"/>
<rect x="485.4" y="121.2" width="4" height="1.5" class="w"/>
<rect x="489.4" y="121.3" width="0.9" height="1.3" fill="#111"/>
<rect x="503.9" y="121.3" width="0.8" height="1.3" fill="#111"/>
<rect x="504.7" y="121.2" width="3.6" height="1.5" class="w"/>
<rect x="508.3" y="121.3" width="7.1" height="1.3" fill="#111"/>
<line x1="486" y1="123.3" x2="508" y2="123.3" class="g"/>
<path d="M489.9,121.9 L500.2,111.5 A14.6,14.6 0 0 1 504.2,121.5" class="g2"/>
<line x1="511.4" y1="103" x2="511.4" y2="116" class="d"/>
<path d="M513.6,103 L515.3,104 L513.6,105 L515.3,106 L513.6,107 L515.3,108 L513.6,109 L515.3,110 L513.6,111 L515.3,112 L513.6,113 L515.3,114 L513.6,115 L515.3,116" class="g"/>
<rect x="513.6" y="115.5" width="1.9" height="30" fill="#111"/>
<rect x="513.6" y="143.8" width="7.9" height="1.7" fill="#111"/>
<rect x="521.5" y="143.8" width="14" height="1.7" class="w"/>
<rect x="535.5" y="143.8" width="16.5" height="1.7" fill="#111"/>
<rect x="552" y="143.8" width="14" height="1.7" class="w"/>
<rect x="566" y="143.8" width="12.8" height="1.7" fill="#111"/>
<rect x="576.9" y="103.8" width="1.9" height="22.2" fill="#111"/>
<rect x="576.9" y="126" width="1.9" height="14" class="ow"/>
<rect x="576.9" y="140" width="1.9" height="5.5" fill="#111"/>
<path d="M524.6,103.8 L524.6,135.5 L567.4,135.5 L567.4,103.8" class="d"/>
<text x="528.55" y="117" font-size="6.9" textLength="34.5" lengthAdjust="spacingAndGlyphs" class="b">FLEX ROOM</text>
<text x="528.5" y="122" font-size="5.5" textLength="35" lengthAdjust="spacingAndGlyphs" class="b">13'-5" x 13'-11"</text>
<text x="532" y="126.8" font-size="4.14" textLength="28" lengthAdjust="spacingAndGlyphs" class="s">Opt. Tray Ceiling</text>
<text x="584.3" y="132.7" font-size="3.91" textLength="6" lengthAdjust="spacingAndGlyphs" class="s">Opt.</text>
<text x="580.3" y="136.2" font-size="3.91" textLength="14" lengthAdjust="spacingAndGlyphs" class="s">Window</text>
<line x1="477.7" y1="159" x2="477.7" y2="177.4" class="g"/>
<line x1="479.9" y1="159.3" x2="479.9" y2="170.3" class="d"/>
<line x1="483.7" y1="159.3" x2="483.7" y2="170.3" class="d"/>
<line x1="578.5" y1="145.5" x2="578.5" y2="177.4" class="g"/>
<line x1="572.4" y1="145.5" x2="572.4" y2="170.3" class="d"/>
<line x1="576.8" y1="145.5" x2="576.8" y2="170.3" class="d"/>
<line x1="477.7" y1="177.4" x2="578.5" y2="177.4" class="g"/>
<line x1="485.4" y1="172.5" x2="570.4" y2="172.5" class="d"/>
<line x1="485.4" y1="175.5" x2="570.4" y2="175.5" class="d"/>
<rect x="477.5" y="170.3" width="8" height="7.1" fill="#fff" stroke="#888" stroke-width="0.9"/>
<rect x="479.2" y="172" width="4.5" height="4.3" fill="#111"/>
<rect x="508.5" y="170.3" width="8" height="7.1" fill="#fff" stroke="#888" stroke-width="0.9"/>
<rect x="510.2" y="172" width="4.5" height="4.3" fill="#111"/>
<rect x="539.4" y="170.3" width="8" height="7.1" fill="#fff" stroke="#888" stroke-width="0.9"/>
<rect x="541.1" y="172" width="4.5" height="4.3" fill="#111"/>
<rect x="570.4" y="170.3" width="8" height="7.1" fill="#fff" stroke="#888" stroke-width="0.9"/>
<rect x="572.1" y="172" width="4.5" height="4.3" fill="#111"/>
<text x="520.5" y="162.2" font-size="5.5" textLength="16" lengthAdjust="spacingAndGlyphs" class="b">PORCH</text>
<rect x="488.5" y="178.8" width="16.3" height="7.5" class="d" fill="none"/>
<line x1="488.5" y1="182.5" x2="504.8" y2="182.5" class="d"/>
<text x="506.9" y="182" font-size="4.4" textLength="17" lengthAdjust="spacingAndGlyphs" class="s">Steps May</text>
<text x="504.9" y="186" font-size="4.4" textLength="21" lengthAdjust="spacingAndGlyphs" class="s">Vary Per Site</text>
<text x="506.4" y="190" font-size="4.4" textLength="18" lengthAdjust="spacingAndGlyphs" class="s">Conditions</text>
<text x="438.8" y="202.1" font-size="8.2" textLength="83.4" lengthAdjust="spacingAndGlyphs" class="b">OPTIONAL ELEVATION C</text>
</g>
<g transform="translate(0,208.2)">
<rect x="379.5" y="103.8" width="1.9" height="55.2" fill="#111"/>
<rect x="379.5" y="157" width="14.3" height="2" fill="#111"/>
<line x1="393.8" y1="158" x2="467" y2="158" stroke="#999" stroke-width="1.2"/>
<rect x="467" y="157" width="13.3" height="2" fill="#111"/>
<rect x="478.4" y="103.8" width="1.9" height="55.2" fill="#111"/>
<rect x="393.8" y="120" width="73.2" height="37" class="d" fill="none"/>
<text x="408.75" y="111.6" font-size="6.9" textLength="42.5" lengthAdjust="spacingAndGlyphs" class="b">2 CAR GARAGE</text>
<text x="412.45" y="117" font-size="5.5" textLength="36.3" lengthAdjust="spacingAndGlyphs" class="b">21'-0" x 19'-10"</text>
<rect x="365.3" y="138" width="14.4" height="14.1" class="d" fill="none"/>
<text x="369.3" y="144" font-size="4.3" textLength="6.6" lengthAdjust="spacingAndGlyphs" class="s">Opt.</text>
<text x="368.55" y="147.9" font-size="4.3" textLength="8.1" lengthAdjust="spacingAndGlyphs" class="s">Door</text>
<path d="M381.8,139.2 L389.3,142 Q386,146 381.8,150.6" class="d2"/>
<rect x="480.3" y="121.3" width="5.1" height="1.3" fill="#111"/>
<rect x="485.4" y="121.2" width="4" height="1.5" class="w"/>
<rect x="489.4" y="121.3" width="0.9" height="1.3" fill="#111"/>
<rect x="503.9" y="121.3" width="0.8" height="1.3" fill="#111"/>
<rect x="504.7" y="121.2" width="3.6" height="1.5" class="w"/>
<rect x="508.3" y="121.3" width="7.1" height="1.3" fill="#111"/>
<line x1="486" y1="123.3" x2="508" y2="123.3" class="g"/>
<path d="M489.9,121.9 L500.2,111.5 A14.6,14.6 0 0 1 504.2,121.5" class="g2"/>
<line x1="511.4" y1="103" x2="511.4" y2="116" class="d"/>
<path d="M513.6,103 L515.3,104 L513.6,105 L515.3,106 L513.6,107 L515.3,108 L513.6,109 L515.3,110 L513.6,111 L515.3,112 L513.6,113 L515.3,114 L513.6,115 L515.3,116" class="g"/>
<rect x="513.6" y="115.5" width="1.9" height="30" fill="#111"/>
<rect x="513.6" y="143.8" width="7.9" height="1.7" fill="#111"/>
<rect x="521.5" y="143.8" width="14" height="1.7" class="w"/>
<rect x="535.5" y="143.8" width="16.5" height="1.7" fill="#111"/>
<rect x="552" y="143.8" width="14" height="1.7" class="w"/>
<rect x="566" y="143.8" width="12.8" height="1.7" fill="#111"/>
<rect x="576.9" y="103.8" width="1.9" height="22.2" fill="#111"/>
<rect x="576.9" y="126" width="1.9" height="14" class="ow"/>
<rect x="576.9" y="140" width="1.9" height="5.5" fill="#111"/>
<path d="M524.6,103.8 L524.6,135.5 L567.4,135.5 L567.4,103.8" class="d"/>
<text x="528.55" y="117" font-size="6.9" textLength="34.5" lengthAdjust="spacingAndGlyphs" class="b">FLEX ROOM</text>
<text x="528.5" y="122" font-size="5.5" textLength="35" lengthAdjust="spacingAndGlyphs" class="b">13'-5" x 13'-11"</text>
<text x="532" y="126.8" font-size="4.14" textLength="28" lengthAdjust="spacingAndGlyphs" class="s">Opt. Tray Ceiling</text>
<text x="584.3" y="132.7" font-size="3.91" textLength="6" lengthAdjust="spacingAndGlyphs" class="s">Opt.</text>
<text x="580.3" y="136.2" font-size="3.91" textLength="14" lengthAdjust="spacingAndGlyphs" class="s">Window</text>
<line x1="477.7" y1="159" x2="477.7" y2="177.4" class="g"/>
<line x1="479.9" y1="159.3" x2="479.9" y2="170.3" class="d"/>
<line x1="483.7" y1="159.3" x2="483.7" y2="170.3" class="d"/>
<line x1="578.5" y1="145.5" x2="578.5" y2="177.4" class="g"/>
<line x1="572.4" y1="145.5" x2="572.4" y2="170.3" class="d"/>
<line x1="576.8" y1="145.5" x2="576.8" y2="170.3" class="d"/>
<line x1="477.7" y1="177.4" x2="578.5" y2="177.4" class="g"/>
<line x1="485.4" y1="172.5" x2="570.4" y2="172.5" class="d"/>
<line x1="485.4" y1="175.5" x2="570.4" y2="175.5" class="d"/>
<rect x="477.5" y="171.3" width="8" height="7.1" fill="#fff" stroke="#aaa" stroke-width="0.6"/>
<circle cx="481.5" cy="174.9" r="2.6" fill="#111"/>
<rect x="508.5" y="171.3" width="8" height="7.1" fill="#fff" stroke="#aaa" stroke-width="0.6"/>
<circle cx="512.5" cy="174.9" r="2.6" fill="#111"/>
<rect x="539.4" y="171.3" width="8" height="7.1" fill="#fff" stroke="#aaa" stroke-width="0.6"/>
<circle cx="543.4" cy="174.9" r="2.6" fill="#111"/>
<rect x="570.4" y="171.3" width="8" height="7.1" fill="#fff" stroke="#aaa" stroke-width="0.6"/>
<circle cx="574.4" cy="174.9" r="2.6" fill="#111"/>
<text x="520.5" y="162.2" font-size="5.5" textLength="16" lengthAdjust="spacingAndGlyphs" class="b">PORCH</text>
<rect x="488.5" y="178.8" width="16.3" height="7.5" class="d" fill="none"/>
<line x1="488.5" y1="182.5" x2="504.8" y2="182.5" class="d"/>
<text x="506.9" y="182" font-size="4.4" textLength="17" lengthAdjust="spacingAndGlyphs" class="s">Steps May</text>
<text x="504.9" y="186" font-size="4.4" textLength="21" lengthAdjust="spacingAndGlyphs" class="s">Vary Per Site</text>
<text x="506.4" y="190" font-size="4.4" textLength="18" lengthAdjust="spacingAndGlyphs" class="s">Conditions</text>
<text x="438.8" y="200.7" font-size="8.2" textLength="83.4" lengthAdjust="spacingAndGlyphs" class="b">OPTIONAL ELEVATION D</text>
</g>
</svg>
</body></html>
